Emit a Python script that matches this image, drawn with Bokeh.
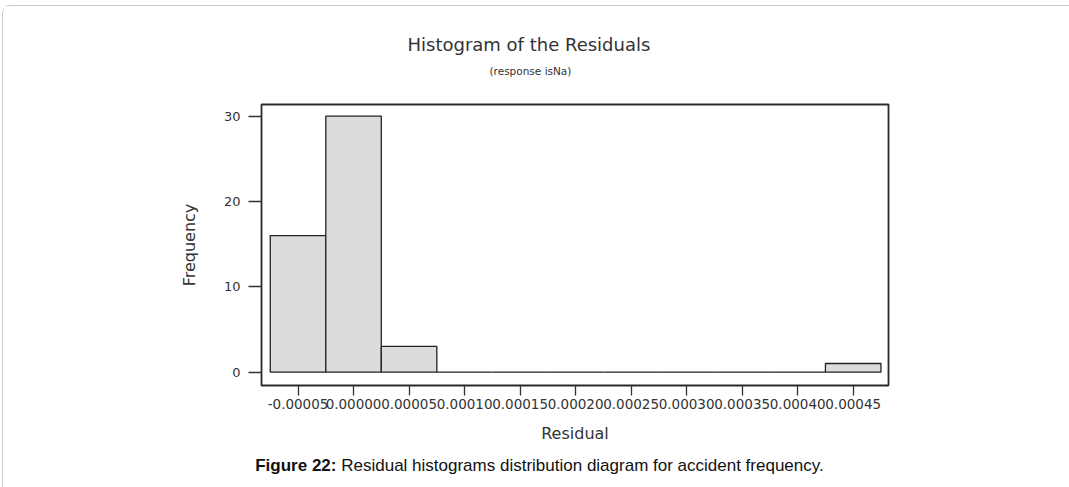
from bokeh.plotting import figure
from bokeh.models import Range1d, FixedTicker, Title, Div
from bokeh.layouts import column
from bokeh.embed import file_html
from bokeh.resources import INLINE

# ---- data ----
bin_centers = [-0.00005, 0.0, 0.00005, 0.00010, 0.00015, 0.00020, 0.00025,
               0.00030, 0.00035, 0.00040, 0.00045]
frequencies = [16, 30, 3, 0, 0, 0, 0, 0, 0, 0, 1]
bin_width = 0.00005
x_tick_values = [-0.00005, 0.0, 0.00005, 0.00010, 0.00015, 0.00020, 0.00025,
                 0.00030, 0.00035, 0.00040, 0.00045]
x_tick_labels = ["-0.00005", "0.00000", "0.00005", "0.00010", "0.00015", "0.00020",
                 "0.00025", "0.00030", "0.00035", "0.00040", "0.00045"]
y_tick_values = [0, 10, 20, 30]

title_text = "Histogram of the Residuals"
subtitle_text = "(response isNa)"
caption_bold = "Figure 22:"
caption_rest = "Residual histograms distribution diagram for accident frequency."

# ---- layout (canvas pixels) ----
W, H = 1069, 487
OX, OY = 3, 6                      # offset of content inside the rounded border
FL, FR, FT, FB = 261, 888, 104, 386   # frame edges in window coordinates
PW = 1063                           # figure width
PH = 445 - OY                       # figure height (ends at window y=445)
CAP_H = 42

CHART_FONT = "DejaVu Sans"
INK = "#333333"

p = figure(width=PW, height=PH, output_backend="svg", toolbar_location=None,
           x_range=Range1d(-0.0000829, 0.0004818), y_range=Range1d(-1.58, 31.37),
           min_border_left=FL - OX, min_border_right=PW - (FR - OX),
           min_border_top=FT - OY, min_border_bottom=(445 - FB),
           background_fill_color="white", border_fill_color="white")
p.grid.visible = False
p.outline_line_color = "#2a2a2a"
p.outline_line_width = 1.8

p.vbar(x=bin_centers, top=frequencies, bottom=0, width=bin_width,
       fill_color="#dcdcdc", line_color="#222222", line_width=1.3)

# x axis
xa = p.xaxis[0]
xa.ticker = FixedTicker(ticks=x_tick_values)
xa.major_label_overrides = dict(zip(x_tick_values, x_tick_labels))
xa.minor_tick_line_color = None
xa.major_tick_in = 0
xa.major_tick_out = 10
xa.major_tick_line_color = INK
xa.major_tick_line_width = 1.3
xa.axis_line_color = None
xa.major_label_standoff = 3
xa.major_label_text_font = CHART_FONT
xa.major_label_text_font_size = "13.5px"
xa.major_label_text_color = INK
xa.axis_label = "Residual"
xa.axis_label_text_font = CHART_FONT
xa.axis_label_text_font_size = "16px"
xa.axis_label_text_font_style = "normal"
xa.axis_label_text_color = INK
xa.axis_label_standoff = 12

# y axis
ya = p.yaxis[0]
ya.ticker = FixedTicker(ticks=y_tick_values)
ya.minor_tick_line_color = None
ya.major_tick_in = 0
ya.major_tick_out = 13
ya.major_tick_line_color = INK
ya.major_tick_line_width = 1.3
ya.axis_line_color = None
ya.major_label_standoff = 8
ya.major_label_text_font = CHART_FONT
ya.major_label_text_font_size = "13px"
ya.major_label_text_color = INK
ya.axis_label = "Frequency"
ya.axis_label_text_font = CHART_FONT
ya.axis_label_text_font_size = "16px"
ya.axis_label_text_font_style = "normal"
ya.axis_label_text_color = INK
ya.axis_label_standoff = 22

# titles (first added sits nearest the frame)
p.add_layout(Title(text=subtitle_text, align="left", offset=228,
                   text_font=CHART_FONT, text_font_size="10.5px",
                   text_font_style="normal", text_color=INK, standoff=56), "above")
p.add_layout(Title(text=title_text, align="left", offset=146,
                   text_font=CHART_FONT, text_font_size="18px",
                   text_font_style="normal", text_color=INK, standoff=-41), "above")

cap = Div(text=f"<b>{caption_bold}</b> {caption_rest}", width=PW, height=CAP_H,
          styles={"text-align": "center", "font-family": "'Liberation Sans', Arial, sans-serif",
                  "font-size": "17px", "color": "#111111", "line-height": "32px",
                  "width": f"{PW}px"})

layout = column(p, cap, spacing=0,
                styles={"border": "1px solid #c8c8c8", "border-radius": "8px",
                        "margin-left": "2px", "margin-top": "5px",
                        "background": "white"})

open("out.html", "w").write(file_html(layout, INLINE))
